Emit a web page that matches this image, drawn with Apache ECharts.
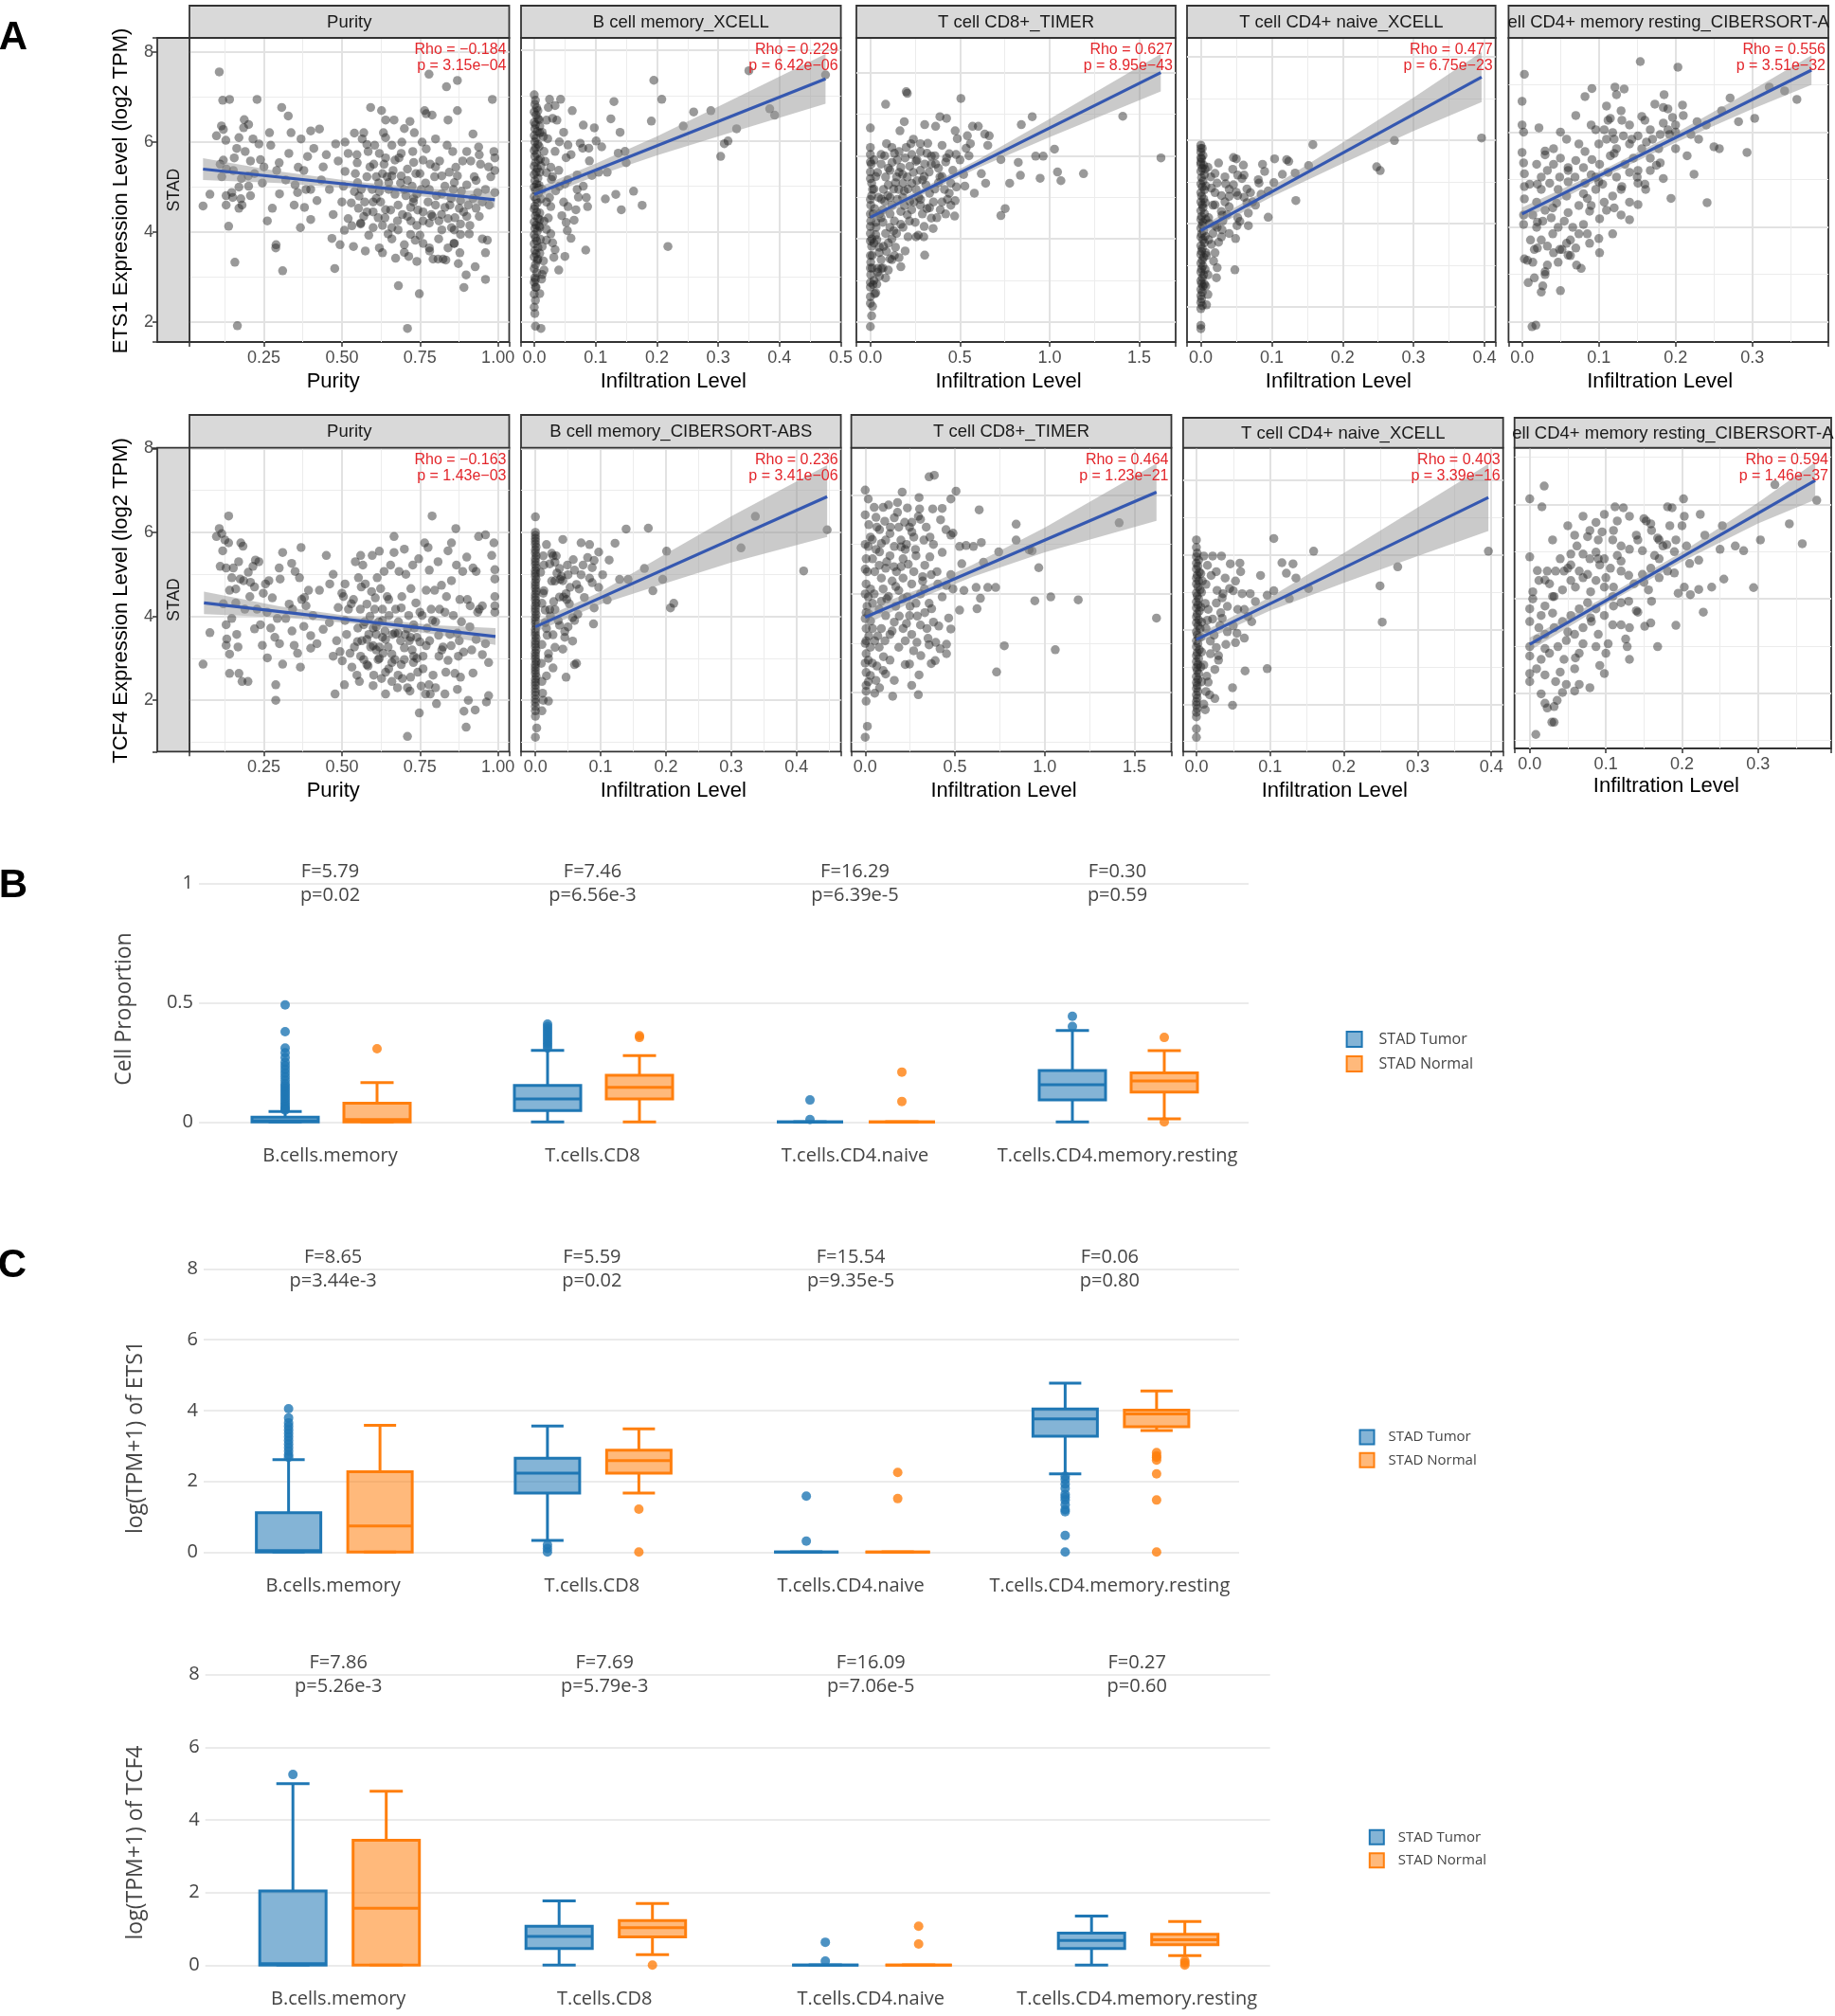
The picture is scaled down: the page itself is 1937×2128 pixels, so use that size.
<!DOCTYPE html>
<html><head><meta charset="utf-8">
<script src="https://cdn.jsdelivr.net/npm/echarts@6/dist/echarts.min.js"></script>
<style>html,body{margin:0;padding:0;background:#fff}#c{width:1937px;height:2128px}</style>
</head><body><div id="c"></div><script>
// ================= DATA =================
// ---- Panel A: strip titles, statistics ----
const stripTitles = [
  ['Purity', 'B cell memory_XCELL', 'T cell CD8+_TIMER', 'T cell CD4+ naive_XCELL', 'ell CD4+ memory resting_CIBERSORT-A'],
  ['Purity', 'B cell memory_CIBERSORT-ABS', 'T cell CD8+_TIMER', 'T cell CD4+ naive_XCELL', 'ell CD4+ memory resting_CIBERSORT-A']
];
const rhoValues = [['−0.184', '0.229', '0.627', '0.477', '0.556'], ['−0.163', '0.236', '0.464', '0.403', '0.594']];
const pValues = [['3.15e−04', '6.42e−06', '8.95e−43', '6.75e−23', '3.51e−32'], ['1.43e−03', '3.41e−06', '1.23e−21', '3.39e−16', '1.46e−37']];
const rowGenes = ['ETS1 Expression Level (log2 TPM)', 'TCF4 Expression Level (log2 TPM)'];
const xTitles = ['Purity', 'Infiltration Level', 'Infiltration Level', 'Infiltration Level', 'Infiltration Level'];
const cancerLabel = 'STAD';

// scatter points (flat x,y pairs)
const ets1_purity = [0.055,4.58,0.077,4.84,0.107,7.56,0.098,6.14,0.114,6.36,0.12,6.28,0.118,6.93,0.14,6.95,0.128,6.04,0.11,5.51,0.115,5.23,0.129,4.81,0.129,4.6,0.137,4.13,0.147,4.88,0.15,4.77,0.157,3.33,0.152,5.37,0.155,5.65,0.163,5.86,0.17,6.1,0.17,4.53,0.176,4.74,0.187,6.5,0.201,6.39,0.185,6.32,0.18,4.6,0.165,1.92,0.178,5.19,0.19,5.79,0.207,5.58,0.201,5.02,0.215,6.07,0.207,4.81,0.228,6.95,0.234,5.96,0.239,5.61,0.245,5.09,0.261,4.25,0.268,6.21,0.272,5.93,0.277,4.53,0.291,5.37,0.288,3.65,0.289,3.72,0.299,5.54,0.307,6.77,0.31,3.14,0.32,5.16,0.328,6.58,0.337,6.21,0.347,4.6,0.358,4.88,0.36,5.44,0.369,6.07,0.367,4.1,0.378,5.37,0.385,4.95,0.39,5.68,0.4,4.95,0.4,4.28,0.4,6.25,0.41,5.86,0.428,6.29,0.434,5.16,0.45,5.72,0.468,3.86,0.472,4.39,0.477,3.19,0.48,5.96,0.488,5.58,0.494,3.72,0.5,4.67,0.505,5.02,0.51,6.0,0.508,4.04,0.52,5.75,0.532,4.14,0.537,3.68,0.543,5.3,0.548,5.72,0.549,5.54,0.553,4.53,0.56,4.18,0.562,4.95,0.565,6.07,0.57,6.21,0.573,4.67,0.575,3.58,0.58,5.23,0.584,5.79,0.586,3.93,0.592,6.77,0.597,4.95,0.6,4.67,0.602,5.51,0.605,5.93,0.61,5.23,0.616,4.32,0.618,5.09,0.624,4.67,0.627,6.7,0.63,3.54,0.633,6.21,0.635,5.51,0.638,4.32,0.64,6.49,0.645,5.23,0.648,3.96,0.65,4.95,0.656,4.49,0.66,5.93,0.664,5.37,0.667,6.49,0.67,4.84,0.672,3.42,0.678,4.25,0.681,2.81,0.683,5.65,0.688,5.09,0.692,6.0,0.694,4.39,0.7,3.72,0.705,4.81,0.71,1.86,0.71,5.4,0.714,3.46,0.718,6.46,0.721,4.25,0.725,5.02,0.727,5.79,0.729,4.67,0.732,6.21,0.735,3.82,0.737,5.3,0.743,4.49,0.748,2.63,0.75,3.93,0.754,4.95,0.757,6.0,0.76,4.25,0.765,6.7,0.768,5.09,0.77,6.63,0.776,4.67,0.779,7.51,0.781,3.58,0.783,5.51,0.786,4.39,0.789,6.6,0.792,3.4,0.797,5.23,0.8,6.07,0.803,4.81,0.808,3.4,0.811,4.25,0.813,5.58,0.819,4.39,0.824,3.4,0.83,5.02,0.833,3.38,0.835,7.23,0.837,5.93,0.84,6.49,0.844,5.33,0.846,4.6,0.851,4.1,0.855,5.79,0.857,4.95,0.859,3.75,0.862,4.32,0.865,5.44,0.87,7.37,0.87,6.7,0.873,3.3,0.876,4.53,0.878,3.54,0.88,4.18,0.883,4.91,0.887,5.58,0.891,2.77,0.898,3.05,0.9,5.79,0.905,4.6,0.908,3.96,0.913,5.58,0.92,6.18,0.924,5.23,0.927,3.23,0.93,4.53,0.935,4.88,0.938,5.89,0.94,5.72,0.944,5.51,0.95,4.67,0.96,2.95,0.96,3.54,0.966,3.82,0.972,4.6,0.977,5.23,0.982,6.95,0.987,5.79,0.99,5.65,0.99,5.37,0.99,4.88,0.555,4.8,0.6,4.45,0.62,4.9,0.64,4.5,0.66,4.1,0.68,4.6,0.7,4.95,0.72,4.55,0.74,4.15,0.65,5.1,0.63,5.3,0.69,5.25,0.71,4.35,0.73,4.75,0.6,4.1,0.58,4.45,0.76,4.45,0.78,4.2,0.8,4.6,0.82,4.85,0.84,4.3,0.86,5.1,0.88,4.7,0.9,4.35,0.75,5.3,0.67,5.6,0.62,5.75,0.54,4.9,0.52,4.3,0.56,4.2,
  0.51,5.35,0.53,4.65,0.55,5.1,0.57,4.35,0.59,5.45,0.61,4.75,0.63,4.15,0.64,5.65,0.66,5.25,0.68,4.05,0.69,5.75,0.71,5.15,0.72,3.95,0.73,5.55,0.74,4.85,0.76,3.75,0.77,5.85,0.78,4.95,0.79,4.35,0.8,5.45,0.81,3.85,0.82,5.25,0.83,4.55,0.84,3.65,0.85,4.75,0.86,4.05,0.87,5.25,0.88,3.95,0.89,4.45,0.9,5.05,0.91,4.15,0.92,4.75,0.93,5.15,0.94,4.35,0.95,3.85,0.96,4.95,0.97,5.45,0.62,3.65,0.66,3.85,0.7,3.55,0.74,3.35,0.78,3.65,0.82,4.05,0.86,3.75,0.64,6.1,0.7,6.3,0.76,5.6,0.58,5.95,0.54,6.2,0.46,4.95,0.44,5.45,0.42,4.7,0.38,4.55,0.35,5.05,0.33,5.75,0.3,4.85,0.25,5.45,0.22,5.3,0.2,5.25,0.17,5.0,0.13,5.4,0.12,5.6];
const ets1_bcell = [0.195,7.34,0.208,6.92,0.13,6.87,0.125,6.49,0.191,6.44,0.26,6.64,0.288,6.67,0.243,6.33,0.33,6.27,0.384,6.71,0.392,6.57,0.475,7.46,0.35,7.55,0.316,6.0,0.31,5.94,0.304,5.66,0.14,6.19,0.08,6.35,0.098,6.29,0.101,6.0,0.11,5.87,0.137,5.73,0.148,5.77,0.15,5.52,0.09,5.56,0.089,5.84,0.079,5.84,0.062,6.67,0.043,6.92,0.025,6.92,0.034,6.78,0.037,6.46,0.023,6.74,0.116,4.72,0.133,4.82,0.162,4.89,0.176,4.58,0.142,4.48,0.087,4.55,0.068,4.48,0.072,4.76,0.218,3.67,0.084,3.59,0.054,4.02,0.052,4.2,0.034,3.6,0.032,3.43,0.016,3.15,0.013,3.05,0.009,2.63,0.002,1.91,0.011,1.86,0.002,2.94,0.002,2.77,0.094,5.24,0.105,5.31,0.119,5.31,0.07,4.93,0.055,5.14,0.041,5.0,0.03,5.21,0.048,4.65,0.023,4.3,0.027,3.95,0.02,3.81,0.041,5.98,0.048,6.19,0.055,5.91,0.034,5.77,0.052,5.63,0.027,5.42,0.016,5.77,0.013,4.93,0.02,4.65,0.027,4.55,0.016,4.23,0.009,4.09,0.013,3.67,0.006,3.39,0.009,6.33,0.013,6.19,0.02,6.46,0.006,6.67,
  0,7.02,0.002,6.9,0.001,6.81,0.004,6.73,0,6.64,0.003,6.57,0.006,6.49,0,6.41,0.002,6.36,0.001,6.27,0.005,6.21,0,6.12,0.003,6.06,0.001,5.98,0.006,5.93,0.002,5.85,0,5.79,0.004,5.71,0.001,5.66,0.007,5.58,0.002,5.52,0,5.44,0.005,5.39,0.003,5.31,0,5.26,0.006,5.18,0.001,5.12,0.004,5.04,0,4.98,0.002,4.91,0.007,4.85,0,4.77,0.003,4.71,0.005,4.64,0.001,4.56,0,4.5,0.004,4.43,0.002,4.35,0.006,4.29,0,4.21,0.003,4.14,0.001,4.07,0.005,4.01,0,3.93,0.002,3.86,0.004,3.79,0,3.73,0.006,3.65,0.001,3.58,0.003,3.51,0,3.44,0.005,3.36,0.002,3.27,0,3.18,0.004,3.09,0.001,2.98,0,2.88,0.003,2.77,0,2.62,0.002,2.48,0,2.33,0.001,2.19,0.009,6.18,0.008,5.88,0.01,5.6,0.009,5.31,0.008,5.02,0.011,4.72,0.009,4.41,0.008,4.12,0.01,3.83,0.009,3.52,0.008,6.47,0.011,5.45,0.007,4.96,0.009,4.26,
  0.015,6.1,0.02,5.3,0.025,4.75,0.03,6.5,0.035,4.9,0.04,5.35,0.045,4.35,0.05,5.05,0.055,4.55,0.06,5.7,0.065,4.25,0.07,5.25,0.075,5.95,0.08,5.0,0.085,4.75,0.06,3.85,0.05,3.45,0.04,3.15,0.03,3.75,0.02,4.05,0.015,3.35,0.012,2.95,0.018,5.55,0.022,6.05,0.028,5.15];
const ets1_cd8 = [0,1.89,0,6.67,0,6.03,0,5.61,0.007,5.34,0.007,5.04,0.002,4.81,0.002,4.43,0,4.13,0.007,3.82,0.002,3.44,0.002,3.14,0,2.84,0,2.61,0.012,5.19,0.024,4.73,0.032,4.28,0.036,3.98,0.049,3.67,0.06,4.51,0.041,3.29,0.085,7.24,0.2,7.54,0.206,7.5,0.505,7.38,0.06,6.03,0.09,6.29,0.134,6.06,0.121,5.84,0.189,6.82,0.165,6.6,0.226,6.29,0.279,6.29,0.303,6.75,0.364,6.71,0.388,6.94,0.425,6.9,0.473,6.6,0.485,6.41,0.541,6.48,0.602,6.71,0.638,6.52,0.663,6.48,0.534,6.18,0.558,6.29,0.478,6.03,0.425,5.95,0.34,5.99,0.316,6.06,0.303,5.8,0.279,5.65,0.255,5.87,0.231,6.03,0.194,5.95,0.17,5.72,0.146,5.49,0.109,5.65,0.085,5.49,0.073,5.19,0.061,4.96,0.097,5.04,0.121,4.81,0.158,5.19,0.182,5.34,0.206,5.49,0.231,5.34,0.255,5.19,0.291,5.42,0.328,5.61,0.364,5.8,0.388,5.49,0.413,5.19,0.449,5.34,0.473,4.92,0.449,4.81,0.4,4.89,0.352,4.89,0.316,4.73,0.279,4.81,0.243,4.89,0.206,4.58,0.17,4.66,0.134,4.43,0.109,4.28,0.085,4.13,0.146,4.13,0.182,4.28,0.218,4.43,0.255,4.05,0.298,4.05,0.371,4.51,0.527,5.27,0.619,5.57,0.643,5.34,0.728,5.91,0.825,5.84,0.842,6.75,0.903,6.94,0.922,5.99,0.964,5.99,1.027,6.16,1.044,5.61,1.063,5.4,0.947,5.46,0.837,5.53,0.777,5.34,0.752,4.73,0.728,4.56,1.189,5.57,1.408,6.95,1.621,5.95,0.655,6.25,0.57,6.71,0.134,3.6,0.17,3.33,0.194,3.71,0.109,3.52,0.073,3.82,0.267,4.09,0.303,3.61,0.061,3.29,0.085,3.06,0.036,2.91,0.024,2.68,0.012,2.38,0.007,2.15,0.02,5.9,0.03,5.5,0.045,5.0,0.05,4.6,0.07,4.4,0.08,4.9,0.1,5.3,0.11,5.0,0.13,5.2,0.15,5.9,0.16,5.6,0.18,5.0,0.19,4.8,0.21,5.2,0.22,4.9,0.24,5.6,0.26,5.4,0.27,5.0,0.29,4.6,0.31,5.3,0.33,5.1,0.34,4.5,0.36,5.2,0.38,5.7,0.4,5.5,0.42,4.6,0.44,5.1,0.12,4.0,0.14,3.8,0.1,3.9,0.06,3.5,0.04,3.2,0.02,3.9,0.03,4.4,0.015,4.6,0.01,3.6,0.015,2.9,0.008,4.0,0.005,5.8,0,6.2,0,5.85,0,5.45,0,4.95,0,4.6,0,4.3,0,3.95,0,3.6,0,3.3,0,2.95,0,2.45,
  0.02,5.2,0.04,5.6,0.06,5.8,0.08,6.0,0.1,5.7,0.12,6.2,0.14,5.35,0.16,6.1,0.18,5.55,0.2,6.2,0.22,5.75,0.24,6.4,0.26,5.9,0.28,6.1,0.3,5.5,0.32,6.3,0.34,5.8,0.36,6.0,0.38,5.35,0.4,6.25,0.42,5.85,0.44,6.05,0.46,5.65,0.48,5.25,0.5,5.9,0.52,5.55,0.55,6.0,0.58,5.1,0.03,4.1,0.05,3.8,0.07,4.7,0.09,3.7,0.11,4.6,0.13,4.2,0.15,4.95,0.17,4.35,0.19,5.15,0.21,4.05,0.23,4.7,0.25,4.4,0.28,4.95,0.3,4.3,0.33,4.75,0.35,4.25,0.39,4.7,0.43,4.95,0.47,4.55,0.01,3.3,0.02,3.0,0.03,2.7,0.05,3.1,0.07,3.3,0.1,3.25,0.12,3.5,0.16,3.55];
const ets1_cd4n = [0.046,5.58,0.05,5.55,0.087,5.42,0.104,5.55,0.121,5.53,0.124,5.49,0.158,5.89,0.273,5.99,0.248,5.36,0.253,5.27,0.396,6.05,0.152,5.39,0.133,5.21,0.134,4.55,0.115,5.18,0.103,4.98,0.095,4.78,0.081,5.05,0.07,4.74,0.065,4.83,0.058,5.08,0.052,5.16,0.061,4.63,0.073,4.52,0.077,4.44,0.067,4.25,0.052,4.14,0.051,3.95,0.067,3.95,0.095,4.15,0.04,4.82,0.034,4.52,0.029,4.67,0.023,4.97,0.02,5.2,0.014,5.12,0.037,4.21,0.031,4.06,0.023,3.91,0.017,3.76,0.011,3.61,0.023,2.94,0.048,2.89,0.04,3.76,0.049,3.64,0.029,3.68,0.008,3.23,0.01,2.77,0.005,2.55,0.02,3.3,0.034,5.12,0.046,4.93,0.052,4.67,0.029,4.29,0.017,4.44,0.011,4.14,0.02,4.74,0.061,5.16,0.082,4.97,
  0,5.88,0.002,5.8,0,5.71,0.003,5.63,0.001,5.55,0,5.47,0.004,5.4,0.002,5.32,0,5.25,0.005,5.17,0.001,5.1,0.003,5.02,0,4.95,0.002,4.88,0.005,4.81,0,4.74,0.001,4.66,0.004,4.59,0,4.52,0.002,4.45,0.003,4.38,0,4.31,0.005,4.24,0.001,4.17,0,4.1,0.003,4.03,0.002,3.96,0,3.89,0.004,3.82,0.001,3.75,0,3.68,0.003,3.61,0.005,3.54,0,3.47,0.002,3.4,0.001,3.33,0,3.26,0.004,3.19,0.002,3.12,0,3.05,0.003,2.98,0.001,2.91,0,2.84,0.004,2.77,0.002,2.7,0,2.63,0.001,2.56,0.003,2.49,0,2.42,0.002,2.35,0,2.27,0.001,2.19,0,2.11,0.002,2.03,0,1.96,0,1.56,0,1.48,0.006,5.3,0.007,4.9,0.006,4.5,0.007,4.1,0.006,3.7,0.007,3.3,0.006,2.9,0.007,2.5,0,5.58,0,5.8,0,5.42,
  0.01,5.35,0.015,4.85,0.02,4.45,0.025,5.45,0.03,4.2,0.035,4.95,0.04,4.4,0.045,5.3,0.05,4.75,0.055,4.05,0.06,5.4,0.065,4.5,0.012,4.0,0.015,3.5,0.02,3.95,0.025,3.55,0.03,3.85,0.018,3.1,0.022,2.7,0.01,2.3,0.008,2.05,0.04,4.65,0.085,4.7,0.09,5.25];
const ets1_cd4mr = [0.003,7.22,0,6.65,0,6.15,0.002,6.0,0,5.57,0.002,5.35,0.003,5.12,0.003,4.85,0.003,4.59,0.002,4.25,0.002,4.05,0.003,3.32,0.007,3.29,0.008,2.82,0.016,2.92,0.013,1.89,0.018,1.92,0.022,6.09,0.03,2.99,0.027,2.75,0.025,2.62,0.033,3.19,0.047,3.25,0.049,3.52,0.058,3.65,0.077,3.12,0.088,3.65,0.101,3.45,0.082,6.75,0.091,6.92,0.121,6.95,0.123,6.79,0.133,6.91,0.154,7.49,0.203,7.37,0.185,6.79,0.173,6.59,0.184,6.52,0.19,6.49,0.209,6.57,0.196,6.31,0.129,6.45,0.115,6.29,0.112,6.25,0.156,6.33,0.096,6.05,0.107,6.05,0.118,5.99,0.132,5.92,0.143,5.85,0.167,6.05,0.184,6.19,0.192,5.95,0.228,6.22,0.23,5.85,0.25,5.69,0.257,5.65,0.271,6.72,0.282,6.22,0.303,6.29,0.322,6.95,0.342,6.87,0.358,6.69,0.293,5.57,0.224,5.11,0.241,4.51,0.194,4.6,0.184,5.02,0.161,4.79,0.151,4.47,0.118,3.85,0.101,4.17,0.088,4.33,0.074,4.45,0.058,4.65,0.047,4.79,0.036,4.92,0.025,5.05,0.019,5.32,0.03,5.52,0.041,5.65,0.058,5.85,0.074,5.75,0.082,5.59,0.091,5.42,0.101,5.32,0.112,5.15,0.123,5.05,0.134,5.32,0.145,5.45,0.156,5.65,0.167,5.45,0.151,5.19,0.129,4.79,0.118,4.65,0.107,4.52,0.096,4.79,0.082,4.92,0.069,5.05,0.06,5.19,0.049,5.05,0.041,5.32,0.033,5.19,0.025,4.79,0.019,4.52,0.014,4.25,0.019,3.99,0.027,4.12,0.038,4.19,0.047,3.99,0.055,4.12,0.066,3.99,0.074,3.85,0.063,3.72,0.052,3.52,0.041,3.45,0.033,3.59,0.025,3.72,0.016,3.52,0.011,3.72,0.014,3.25,0.063,3.39,0.071,3.19,0.085,3.85,0.096,5.05,0.123,5.65,0.11,5.85,0.151,5.92,0.162,5.79,0.178,5.65,0.167,5.19,0.14,4.52,0.129,4.25,0.151,4.92,0.07,5.4,0.09,5.1,0.105,4.9,0.06,4.3,0.045,4.5,0.03,4.35,0.02,4.9,0.085,4.6,0.115,5.5,0.2,6.0,0.215,5.5,0.175,5.3,0.14,6.15,
  0.01,4.9,0.02,4.1,0.03,5.6,0.04,3.85,0.05,5.45,0.06,4.95,0.07,3.55,0.08,5.25,0.09,4.45,0.1,5.75,0.11,4.35,0.12,5.55,0.13,4.85,0.14,5.75,0.15,5.05,0.16,6.25,0.17,5.85,0.18,5.35,0.19,6.05,0.2,5.65,0.21,6.35,0.22,5.95,0.24,6.15,0.26,6.45,0.04,4.4,0.06,3.4,0.08,4.05,0.1,3.75,0.12,4.4,0.14,4.15,0.05,6.0,0.07,6.35,0.09,6.15,0.11,6.55,0.13,6.25,0.03,3.05,0.05,2.65,0.02,3.55,0.06,5.25,0.08,4.7,0.1,4.95,0.12,5.85,0.14,5.15,0.16,4.9,0.18,5.95,0.2,6.15];
const tcf4_purity = [0.055,2.86,0.077,3.61,0.098,5.9,0.107,6.09,0.115,5.97,0.11,5.19,0.118,5.56,0.125,5.82,0.129,5.15,0.137,6.39,0.137,5.75,0.14,4.62,0.147,4.92,0.129,3.8,0.131,3.46,0.129,3.31,0.14,2.64,0.147,3.95,0.152,5.15,0.16,4.32,0.163,3.57,0.167,3.27,0.169,5.3,0.17,2.64,0.174,4.89,0.176,5.75,0.18,2.45,0.183,5.67,0.185,4.85,0.189,4.17,0.199,2.45,0.205,4.47,0.207,4.81,0.215,5.19,0.22,4.7,0.223,5.34,0.228,4.17,0.234,5.3,0.239,3.8,0.245,3.31,0.248,4.55,0.255,4.77,0.261,3.01,0.266,4.85,0.272,3.72,0.277,4.44,0.285,3.5,0.288,2.37,0.288,2.0,0.293,3.95,0.299,5.15,0.302,4.89,0.31,2.86,0.31,5.52,0.32,3.95,0.331,4.29,0.339,5.26,0.342,4.17,0.347,3.31,0.35,5.07,0.358,3.12,0.364,4.92,0.367,2.79,0.369,5.64,0.371,4.4,0.378,3.76,0.385,4.25,0.393,4.62,0.4,3.54,0.4,3.24,0.407,4.02,0.428,4.62,0.44,3.69,0.45,5.45,0.461,4.77,0.472,5.0,0.478,2.15,0.472,3.05,0.483,3.42,0.488,4.21,0.494,3.16,0.501,2.94,0.505,4.47,0.508,2.37,0.51,4.77,0.515,3.57,0.521,4.17,0.526,3.12,0.532,2.79,0.537,4.4,0.54,3.27,0.543,5.3,0.548,2.6,0.551,3.72,0.553,4.92,0.556,2.45,0.559,4.17,0.562,4.7,0.564,3.42,0.567,5.22,0.57,2.97,0.573,3.87,0.575,4.77,0.58,4.29,0.584,2.82,0.586,3.57,0.592,3.27,0.595,4.59,0.597,5.45,0.6,3.72,0.602,2.6,0.605,4.17,0.607,4.44,0.61,3.57,0.613,4.92,0.616,2.97,0.618,3.87,0.62,3.27,0.624,4.66,0.627,2.52,0.63,4.17,0.632,3.12,0.635,5.07,0.638,3.65,0.64,2.67,0.645,4.47,0.648,3.27,0.651,4.02,0.656,5.22,0.66,2.45,0.662,3.57,0.667,5.52,0.667,5.9,0.67,2.97,0.672,4.17,0.678,2.3,0.681,3.87,0.683,5.07,0.688,3.42,0.692,4.47,0.694,2.52,0.7,2.97,0.703,3.57,0.705,5.0,0.71,1.14,0.71,2.3,0.714,4.02,0.716,3.42,0.718,2.22,0.721,4.66,0.725,3.2,0.727,5.22,0.729,2.9,0.732,3.72,0.737,4.32,0.743,2.67,0.746,5.37,0.748,1.7,0.75,3.39,0.754,2.34,0.757,4.02,0.76,3.05,0.765,5.75,0.768,2.15,0.77,4.62,0.773,3.72,0.776,5.64,0.779,2.37,0.781,3.42,0.783,2.15,0.786,4.17,0.789,6.39,0.792,2.6,0.797,4.62,0.8,3.87,0.803,1.92,0.808,5.3,0.811,3.05,0.813,4.17,0.819,4.74,0.824,3.27,0.83,2.15,0.833,2.67,0.835,4.47,0.84,5.56,0.846,3.57,0.851,5.75,0.851,4.85,0.857,4.02,0.862,2.64,0.865,6.09,0.867,5.22,0.87,2.26,0.873,3.05,0.876,3.42,0.878,4.4,0.883,3.87,0.887,5.07,0.891,1.74,0.898,1.36,0.9,5.41,0.902,4.4,0.905,2.0,0.911,4.25,0.916,3.2,0.92,5.15,0.927,1.77,0.93,5.07,0.935,4.1,0.938,5.9,0.94,4.17,0.95,3.09,0.96,5.94,0.963,1.96,0.97,2.9,0.97,2.11,0.98,5.45,0.987,5.75,0.99,5.11,0.99,4.89,0.99,4.47,0.99,4.25,0.99,4.1,0.6,3.3,0.62,3.0,0.64,3.45,0.66,3.1,0.68,3.6,0.7,3.25,0.72,3.5,0.74,3.0,0.58,3.45,0.56,3.05,0.65,2.75,0.69,2.85,0.61,3.75,0.73,3.8,0.63,3.9,
  0.51,3.9,0.53,4.3,0.55,3.4,0.57,3.8,0.59,4.0,0.61,3.2,0.63,3.5,0.65,4.4,0.67,3.6,0.69,4.2,0.71,3.7,0.73,3.05,0.75,4.1,0.77,3.3,0.79,3.9,0.81,3.55,0.83,4.1,0.85,3.3,0.87,3.6,0.89,3.15,0.91,3.75,0.93,3.45,0.95,4.25,0.6,2.35,0.64,2.15,0.68,2.6,0.72,2.55,0.76,2.75,0.8,2.3,0.84,2.95,0.88,2.55,0.92,2.65,0.96,3.35,0.5,4.55,0.46,3.85,0.42,3.35,0.38,4.45,0.34,3.65,0.3,3.35,0.26,4.1,0.22,3.7,0.2,5.05,0.16,4.65,0.14,3.1,0.12,4.3,0.56,5.45,0.62,5.55,0.7,5.6,0.78,5.1,0.58,2.85,0.66,2.9,0.74,3.5,0.82,3.2];
const tcf4_bcell = [0.017,5.71,0.012,5.44,0.013,5.22,0.022,5.25,0.027,5.44,0.03,5.29,0.032,5.44,0.025,4.84,0.042,5.83,0.033,5.03,0.038,4.88,0.042,4.85,0.043,4.46,0.048,4.4,0.067,4.65,0.057,3.97,0.06,3.9,0.063,2.88,0.06,2.85,0.047,2.55,0.042,3.22,0.057,3.41,0.083,5.71,0.097,5.53,0.09,5.33,0.113,5.34,0.087,5.16,0.083,4.91,0.087,4.8,0.09,4.2,0.089,3.82,0.129,4.88,0.142,4.88,0.122,5.74,0.139,6.08,0.173,6.1,0.167,5.14,0.201,5.55,0.195,4.88,0.18,4.61,0.207,4.2,0.212,4.31,0.11,4.39,0.097,4.69,0.103,4.99,0.073,5.22,0.07,4.99,0.063,4.76,0.053,4.69,0.047,4.54,0.037,4.46,0.03,4.16,0.023,4.01,0.017,3.71,0.027,3.56,0.037,3.79,0.045,3.64,0.03,3.26,0.02,3.11,0.027,2.77,0.017,2.58,0.011,2.17,0.02,1.98,0.01,1.75,0.022,4.16,0.013,4.61,0.01,4.31,0.01,3.33,0.009,2.88,0.03,4.84,0.037,5.14,0.049,5.22,0.05,4.99,0.06,5.1,0.337,6.38,0.315,5.63,0.411,5.08,0.447,6.06,
  0,6.37,0,6.0,0,5.93,0,5.86,0,5.79,0,5.72,0.001,5.65,0,5.58,0,5.51,0.001,5.44,0,5.37,0,5.3,0,5.23,0.001,5.16,0,5.09,0,5.02,0,4.95,0.001,4.88,0,4.81,0,4.74,0,4.67,0.001,4.6,0,4.53,0,4.46,0,4.39,0.001,4.32,0,4.25,0,4.18,0,4.11,0.001,4.04,0,3.97,0,3.9,0,3.83,0.001,3.76,0,3.69,0,3.62,0,3.55,0.001,3.48,0,3.41,0,3.34,0,3.27,0.001,3.2,0,3.13,0,3.06,0,2.99,0.001,2.92,0,2.85,0,2.78,0,2.71,0,2.64,0.001,2.57,0,2.5,0,2.43,0,2.36,0,2.28,0,2.2,0,2.12,0,2.03,0,1.95,0,1.85,0,1.75,0,1.62,0.002,1.34,0,1.12,
  0.008,5.05,0.012,4.55,0.015,4.15,0.018,3.55,0.02,3.0,0.025,5.5,0.028,4.35,0.035,3.9,0.04,4.95,0.045,3.5,0.052,4.3,0.058,5.35,0.065,4.05,0.075,4.45,0.08,5.4,0.01,2.45,0.012,2.0,0.015,3.85,0.05,3.75,0.07,5.75];
const tcf4_cd8 = [0,6.1,0.017,5.92,0,1.1,0.012,1.32,0.356,6.37,0.385,6.4,0.206,6.06,0.506,6.08,0.477,5.92,0.635,5.7,0.235,5.74,0.303,5.72,0.376,5.72,0.429,5.73,0.247,5.35,0.296,5.57,0.308,5.51,0.162,5.54,0.109,5.47,0.065,5.35,0.199,5.09,0.223,4.9,0.271,5.15,0.327,5.09,0.361,5.15,0.429,4.84,0.477,5.19,0.489,5.23,0.526,4.96,0.562,4.98,0.603,4.96,0.647,5.04,0.841,5.41,0.841,5.09,0.913,4.89,0.93,4.87,0.967,4.53,0.744,4.85,0.659,4.64,0.727,4.13,0.618,4.13,0.538,4.61,0.477,4.39,0.453,4.17,0.489,4.1,0.642,3.91,0.623,3.7,0.526,3.67,0.465,3.51,0.477,3.29,0.453,2.98,0.393,3.02,0.417,2.89,0.453,2.79,0.356,2.97,0.288,3.02,0.368,2.59,0.247,2.58,0.223,2.57,0.3,2.36,0.259,2.15,0.296,1.96,0.153,1.93,0.162,2.25,0.114,2.38,0.053,1.99,0.017,2.22,0.005,1.83,0.775,2.95,0.732,2.42,1.059,2.87,0.945,3.86,1.034,3.94,1.187,3.88,1.415,5.44,1.623,3.51,0.683,4.13,0.55,4.07,0.041,4.71,0.053,4.45,0.078,4.58,0.09,4.32,0.114,4.52,0.138,4.77,0.15,4.26,0.174,4.45,0.187,4.07,0.211,4.32,0.235,3.94,0.259,4.2,0.283,3.81,0.308,4.0,0.332,3.62,0.356,3.81,0.38,3.43,0.344,3.3,0.308,3.37,0.259,3.18,0.211,3.3,0.162,3.43,0.114,3.56,0.078,3.69,0.041,3.81,0.017,3.94,0.005,4.2,0.012,4.45,0.005,4.71,0.017,4.96,0.029,5.15,0.041,3.3,0.053,3.05,0.078,2.92,0.102,2.73,0.138,2.66,0.187,2.92,0.223,3.05,0.138,3.18,0.09,3.3,0.029,2.92,0.017,2.66,0.005,2.41,0.029,2.35,0.065,2.54,0.005,3.62,0.005,3.3,0.005,3.05,0.005,2.79,0.005,2.15,0.005,2.03,0.09,5.02,0.138,5.22,0.187,5.35,0.162,4.96,0.114,5.09,0.211,4.71,0.283,4.77,0.332,4.58,0.368,4.39,0.405,4.2,0.429,3.94,0.271,4.45,0.32,4.26,0.247,3.56,0.0,5.6,0.0,5.0,0.0,4.5,0.0,4.0,0.0,3.5,0.0,3.0,0.0,2.6,0.02,3.6,0.03,4.1,0.06,4.9,0.1,4.1,0.12,3.9,0.17,3.75,0.2,4.55,0.23,5.0,0.26,5.45,0.05,5.75,0.08,5.3,0.13,5.8,0.18,5.65,
  0.02,5.4,0.04,5.1,0.06,5.55,0.08,4.85,0.1,5.75,0.12,4.65,0.14,5.35,0.16,4.55,0.18,5.85,0.2,4.95,0.22,5.45,0.24,4.6,0.26,5.25,0.28,4.9,0.3,5.95,0.32,4.35,0.34,5.35,0.36,4.75,0.38,5.0,0.4,4.45,0.42,5.5,0.45,5.3,0.03,3.45,0.05,4.0,0.07,3.15,0.09,3.85,0.11,3.05,0.13,3.95,0.15,3.25,0.17,4.15,0.19,3.55,0.21,3.9,0.23,3.4,0.25,3.75,0.27,2.85,0.29,3.55,0.31,2.75,0.33,4.1,0.35,3.1,0.37,3.7,0.39,2.65,0.41,3.35,0.01,3.75,0.02,3.15,0.04,2.6,0.06,2.25,0.08,2.1,0.1,2.45];
const tcf4_cd4n = [0.105,6.44,0.159,6.1,0.396,6.1,0.273,5.68,0.249,5.17,0.252,4.2,0.116,5.79,0.131,5.76,0.122,5.51,0.135,5.38,0.152,5.1,0.126,4.83,0.105,5.04,0.096,4.92,0.087,5.45,0.073,4.96,0.075,4.21,0.065,4.54,0.066,2.89,0.096,2.95,0.049,2.44,0.049,1.97,0.025,2.15,0.059,5.78,0.046,5.76,0.034,5.97,0.022,5.97,0.027,5.55,0.039,5.38,0.053,5.3,0.05,5.04,0.062,4.96,0.036,4.96,0.027,4.71,0.042,4.62,0.056,4.54,0.033,4.45,0.022,4.28,0.032,4.11,0.042,3.94,0.053,3.65,0.065,3.77,0.027,3.52,0.019,3.35,0.03,3.18,0.025,2.93,0.016,2.59,0.013,2.34,0.01,2.0,0.019,3.69,0.013,4.03,0.016,4.54,0.013,5.21,0.015,5.72,0.01,5.97,
  0,6.4,0,6.2,0.001,6.05,0,5.95,0.003,5.86,0,5.78,0.002,5.7,0,5.62,0.004,5.54,0.001,5.46,0,5.38,0.003,5.3,0,5.22,0.002,5.14,0.005,5.06,0,4.98,0.001,4.9,0.003,4.82,0,4.74,0.002,4.66,0,4.58,0.004,4.5,0.001,4.42,0,4.34,0.003,4.26,0,4.18,0.002,4.1,0.005,4.02,0,3.94,0.001,3.86,0.003,3.78,0,3.7,0.002,3.62,0,3.54,0.004,3.46,0.001,3.38,0,3.3,0.003,3.22,0,3.14,0.002,3.06,0,2.98,0.001,2.9,0.003,2.82,0,2.74,0.002,2.66,0,2.58,0.001,2.5,0,2.42,0.002,2.34,0,2.25,0.001,2.16,0,2.07,0,1.98,0.001,1.88,0,1.78,0,1.66,0,1.34,0,1.11,0.006,5.5,0.007,5.0,0.006,4.6,0.007,4.2,0.006,3.8,0.007,3.4,0.006,3.0,0.007,2.6,
  0.008,5.3,0.012,4.7,0.015,4.25,0.02,5.45,0.024,3.85,0.028,5.05,0.035,4.3,0.04,3.6,0.045,5.1,0.05,4.1,0.06,5.55,0.07,4.35,0.08,4.75,0.01,3.05,0.014,2.75,0.018,2.25,0.012,1.85,0.03,3.3,0.035,4.85,0.055,3.9];
const tcf4_cd4mr = [0,6.12,0.016,5.95,0.019,6.39,0,4.89,0.004,4.15,0.004,4.0,0,3.79,0,3.52,0,2.99,0,2.79,0,2.42,0,2.25,0.008,1.13,0.032,1.39,0.02,1.79,0.023,1.69,0.015,1.99,0.034,2.25,0.202,6.12,0.181,5.95,0.187,5.93,0.112,5.95,0.123,5.93,0.131,5.75,0.098,5.79,0.087,5.62,0.079,5.45,0.115,5.65,0.153,5.65,0.159,5.59,0.203,5.75,0.224,5.79,0.184,5.55,0.168,5.29,0.142,5.25,0.12,5.12,0.109,5.25,0.095,5.42,0.076,5.32,0.059,5.35,0.062,5.12,0.054,4.95,0.07,4.95,0.087,4.99,0.098,4.85,0.115,4.92,0.131,5.05,0.148,5.02,0.164,4.92,0.175,5.12,0.192,5.25,0.206,5.12,0.222,4.82,0.27,5.12,0.281,5.02,0.303,5.25,0.253,5.55,0.322,6.42,0.341,5.59,0.358,5.17,0.377,6.09,0.255,4.42,0.239,4.25,0.222,4.2,0.203,4.25,0.195,4.12,0.211,4.09,0.294,4.24,0.228,3.72,0.192,3.44,0.168,2.99,0.159,3.49,0.151,3.42,0.131,3.39,0.126,3.15,0.128,2.99,0.131,2.72,0.098,2.42,0.092,2.59,0.079,2.12,0.065,2.19,0.059,2.05,0.048,2.19,0.036,1.85,0.043,2.02,0.032,1.72,0.029,1.39,0.142,3.72,0.12,3.92,0.109,4.05,0.098,4.25,0.087,4.39,0.076,4.52,0.065,4.59,0.054,4.39,0.043,4.19,0.032,4.05,0.02,3.85,0.015,3.65,0.012,3.39,0.02,3.25,0.032,3.39,0.043,3.52,0.054,3.65,0.065,3.79,0.076,3.92,0.087,3.79,0.098,3.65,0.109,3.45,0.081,3.52,0.07,3.39,0.059,3.25,0.048,3.12,0.037,2.99,0.026,2.85,0.015,2.72,0.009,2.52,0.02,2.39,0.065,2.85,0.087,2.99,0.103,3.05,0.059,2.52,0.045,2.72,0.137,4.32,0.148,4.52,0.159,4.65,0.12,4.59,0.17,4.45,0.156,4.19,0.181,4.59,0.092,4.72,0.106,4.65,0.079,4.85,0.045,4.59,0.034,4.59,0.023,4.59,0.012,4.39,0.026,4.32,0.054,4.72,
  0.01,3.15,0.02,4.4,0.03,3.7,0.04,4.85,0.05,3.3,0.06,4.25,0.07,3.05,0.08,4.15,0.09,3.25,0.1,4.45,0.11,3.85,0.12,4.8,0.13,3.95,0.14,5.35,0.15,4.35,0.16,5.45,0.17,4.85,0.18,5.15,0.19,4.55,0.2,5.55,0.21,4.75,0.23,5.35,0.25,5.05,0.02,2.95,0.04,2.45,0.06,2.75,0.08,3.6,0.1,2.85,0.12,3.45,0.14,3.75,0.16,3.95,0.03,5.25,0.05,5.55,0.07,5.75,0.09,5.25,0.11,5.45,0.01,4.6,0.03,4.05,0.05,4.65,0.07,4.45,0.09,4.85,0.11,4.25,0.13,4.5,0.15,5.7,0.17,5.25,0.19,5.0];

// regression lines [x0, y0, x1, y1] and confidence bands
const fitLines = [
  [0.055,5.40,0.99,4.72],[0,4.82,0.475,7.37],[0,4.52,1.62,8.0],[0,3.83,0.396,7.51],[0,4.27,0.377,7.31],
  [0.058,4.32,0.992,3.52],[0,3.75,0.447,6.85],[0,3.53,1.623,6.06],[0,3.73,0.396,7.54],[0,3.04,0.375,6.51]
];
const bandX = [
  [0.055,0.3,0.55,0.8,0.99],[0,0.1,0.2,0.3,0.475],[0,0.3,0.6,1.0,1.62],[0,0.1,0.2,0.3,0.396],[0,0.1,0.2,0.3,0.377],
  [0.058,0.3,0.55,0.8,0.992],[0,0.1,0.2,0.3,0.447],[0,0.3,0.6,1.0,1.623],[0,0.1,0.2,0.3,0.396],[0,0.1,0.2,0.3,0.375]
];
const bandLo = [
  [5.16,5.09,4.965,4.76,4.54],[4.70,5.22,5.68,6.10,6.82],[4.40,5.08,5.71,6.45,7.55],[3.73,4.64,5.44,6.22,6.91],[4.13,5.0,5.78,6.49,7.0],
  [4.05,3.98,3.82,3.57,3.32],[3.63,4.29,4.79,5.28,5.89],[3.38,3.9,4.35,4.84,5.48],[3.61,4.51,5.25,5.97,6.64],[2.9,3.89,4.79,5.6,6.1]
];
const bandHi = [
  [5.64,5.35,5.115,4.96,4.90],[4.94,5.50,6.10,6.76,7.92],[4.64,5.24,5.91,6.89,8.45],[3.93,4.88,5.94,7.02,8.11],[4.41,5.16,5.98,6.89,7.62],
  [4.59,4.24,3.98,3.79,3.72],[3.87,4.59,5.49,6.38,7.6],[3.68,4.1,4.59,5.34,6.64],[3.85,4.87,6.05,7.27,8.44],[3.18,4.05,4.99,6.04,6.9]
];

// ---- Panels B & C: boxplots ----
const cellTypes = ['B.cells.memory', 'T.cells.CD8', 'T.cells.CD4.naive', 'T.cells.CD4.memory.resting'];
const groupNames = ['STAD Tumor', 'STAD Normal'];
// [min, Q1, median, Q3, max]
const propTumor  = [[0,0,0.005,0.02,0.044],[0,0.048,0.096,0.153,0.30],[0,0,0,0,0],[0,0.092,0.156,0.215,0.383]];
const propNormal = [[0,0,0.01,0.079,0.165],[0,0.096,0.145,0.196,0.278],[0,0,0,0,0],[0.013,0.125,0.172,0.206,0.299]];
const propTumorOut  = [[0.49,0.378,0.31,0.29,0.27,0.25,0.235,0.22,0.205,0.19,0.175,0.16,0.15,0.14,0.13,0.12,0.11,0.1,0.09,0.08,0.07,0.062,0.055,0.05],[0.31,0.32,0.33,0.34,0.35,0.36,0.37,0.38,0.39,0.40,0.41],[0.092,0.01],[0.443,0.40]];
const propNormalOut = [[0.307],[0.354,0.361],[0.209,0.086],[0.354,0]];
const propF = ['5.79','7.46','16.29','0.30'];
const propP = ['0.02','6.56e-3','6.39e-5','0.59'];

const ets1Tumor  = [[0,0,0.04,1.11,2.61],[0.33,1.67,2.23,2.65,3.56],[0,0,0,0,0],[2.21,3.27,3.76,4.04,4.77]];
const ets1Normal = [[0,0,0.74,2.27,3.58],[1.67,2.23,2.58,2.88,3.48],[0,0,0,0,0],[3.43,3.54,3.90,4.01,4.55]];
const ets1TumorOut  = [[4.05,3.79,3.65,3.55,3.45,3.35,3.25,3.15,3.05,2.95,2.85,2.75,2.68],[0.2,0.1,0],[1.58,0.31],[2.14,2.05,1.92,1.8,1.63,1.55,1.47,1.34,1.2,1.14,0.47,0]];
const ets1NormalOut = [[],[1.21,0],[2.25,1.51],[2.81,2.72,2.68,2.6,2.21,1.47,0]];
const ets1F = ['8.65','5.59','15.54','0.06'];
const ets1P = ['3.44e-3','0.02','9.35e-5','0.80'];

const tcf4Tumor  = [[0,0,0.04,2.04,5.0],[0,0.46,0.79,1.07,1.77],[0,0,0,0,0],[0,0.46,0.68,0.88,1.35]];
const tcf4Normal = [[0,0,1.57,3.44,4.79],[0.29,0.78,1.03,1.23,1.70],[0,0,0,0,0],[0.26,0.56,0.70,0.85,1.20]];
const tcf4TumorOut  = [[5.25],[],[0.63,0.11],[]];
const tcf4NormalOut = [[],[0],[1.07,0.58],[0.12,0.06,0]];
const tcf4F = ['7.86','7.69','16.09','0.27'];
const tcf4P = ['5.26e-3','5.79e-3','7.06e-5','0.60'];

// ================= LAYOUT / STYLE =================
const SANS = '"Liberation Sans", Arial, sans-serif';
const OPEN = '"Open Sans", sans-serif';
const scatterData = [ets1_purity, ets1_bcell, ets1_cd8, ets1_cd4n, ets1_cd4mr, tcf4_purity, tcf4_bcell, tcf4_cd8, tcf4_cd4n, tcf4_cd4mr];
const L = [
  {l:200, r:537.5, t:40, b:361, ht:6, x:[0.0115,1.036], xs:0.25, xd:2, y:[1.558,8.316], sh:17, ng:31},
  {l:550, r:887.6, t:40, b:361, ht:6, x:[-0.0215,0.5], xs:0.1, xd:1, y:[1.561,8.276], sh:8, ng:31},
  {l:904, r:1241, t:40, b:361, ht:6, x:[-0.078,1.703], xs:0.5, xd:1, y:[1.52,8.836], sh:8, ng:31},
  {l:1253, r:1578.7, t:40, b:361, ht:6, x:[-0.0195,0.4157], xs:0.1, xd:1, y:[1.16,8.45], sh:3, ng:31},
  {l:1592.4, r:1930, t:40, b:361, ht:6, x:[-0.0176,0.399], xs:0.1, xd:1, y:[1.566,7.99], sh:9, ng:31},
  {l:200, r:537.5, t:472.7, b:793.3, ht:438, x:[0.0115,1.036], xs:0.25, xd:2, y:[0.78,8.013], sh:17, ng:31},
  {l:550, r:887.6, t:472.7, b:793.3, ht:438, x:[-0.022,0.468], xs:0.1, xd:1, y:[0.78,8.013], sh:8, ng:31},
  {l:898.6, r:1236.5, t:472.7, b:793.3, ht:438, x:[-0.0776,1.706], xs:0.5, xd:1, y:[0.81,6.956], sh:8, ng:31},
  {l:1248.9, r:1586.7, t:472.7, b:793.3, ht:441, x:[-0.018,0.416], xs:0.1, xd:1, y:[0.73,8.87], sh:9, ng:31},
  {l:1598.7, r:1933, t:472.7, b:790, ht:441, x:[-0.02,0.396], xs:0.1, xd:1, y:[0.834,7.2], sh:7, ng:29}
];

const grids = [], xAxes = [], yAxes = [], series = [], graphics = [], legends = [];
function isMult(v, s) { const q = v / s; return Math.abs(q - Math.round(q)) < 1e-6; }
function pairs(a) { const out = []; for (let i = 0; i < a.length; i += 2) out.push([a[i], a[i + 1]]); return out; }
function txt(x, y, text, font, fill, align, valign, rot) {
  return {type:'text', x, y, rotation: rot || 0, z: 50,
    style:{text, font, fill, align, textAlign: align, verticalAlign: valign, textVerticalAlign: valign}};
}
function bandRenderer(k) {
  return function (params, api) {
    if (params.dataIndex !== 0) return {type:'group', children:[]};
    const xs = bandX[k], pts = [];
    xs.forEach((x, i) => pts.push(api.coord([x, bandLo[k][i]])));
    for (let i = xs.length - 1; i >= 0; i--) pts.push(api.coord([xs[i], bandHi[k][i]]));
    return {type:'polygon', shape:{points:pts}, style:{fill:'rgba(150,150,150,0.5)', stroke:null}};
  };
}

// -------- Panel A --------
for (let k = 0; k < 10; k++) {
  const g = L[k], row = Math.floor(k / 5), col = k % 5;
  grids.push({left:g.l, top:g.t, width:g.r - g.l, height:g.b - g.t, show:true, borderColor:'#333', borderWidth:1.8, backgroundColor:'#fff'});
  xAxes.push({gridIndex:k, type:'value', min:g.x[0], max:g.x[1], minInterval:g.xs, maxInterval:g.xs,
    axisLine:{show:false}, axisTick:{show:true, length:5, lineStyle:{color:'#333', width:1.5}},
    axisLabel:{margin:8, fontSize:18, color:'#4d4d4d', fontFamily:SANS, formatter: v => isMult(v, g.xs) ? v.toFixed(g.xd) : ''},
    splitLine:{show:true, showMinLine:false, showMaxLine:false, lineStyle:{color:'#e2e2e2', width:2}},
    minorTick:{show:false, splitNumber:2}, minorSplitLine:{show:true, lineStyle:{color:'#ececec', width:1}},
    name:xTitles[col], nameLocation:'middle', nameGap:g.ng,
    nameTextStyle:{fontSize:22, color:'#000', fontFamily:SANS, padding:[0, 2 * g.sh, 0, 0]}});
  yAxes.push({gridIndex:k, type:'value', min:g.y[0], max:g.y[1], minInterval:2, maxInterval:2,
    offset: col === 0 ? 34 : 0,
    axisLine:{show:false}, axisTick:{show: col === 0, length:5, lineStyle:{color:'#333', width:1.5}},
    axisLabel:{show: col === 0, margin:4, fontSize:18, color:'#4d4d4d', fontFamily:SANS, formatter: v => isMult(v, 2) ? String(Math.round(v)) : ''},
    splitLine:{show:true, showMinLine:false, showMaxLine:false, lineStyle:{color:'#e2e2e2', width:2}},
    minorTick:{show:false, splitNumber:2}, minorSplitLine:{show:true, lineStyle:{color:'#ececec', width:1}}});
  series.push({type:'scatter', xAxisIndex:k, yAxisIndex:k, data:pairs(scatterData[k]), symbolSize:9.5,
    itemStyle:{color:'rgba(35,35,35,0.58)'}, z:2, silent:true});
  const bx = bandX[k];
  series.push({type:'custom', xAxisIndex:k, yAxisIndex:k, data:bx.map((x, i) => [x, bandLo[k][i], bandHi[k][i]]),
    encode:{x:0, y:[1, 2]}, renderItem:bandRenderer(k), z:3, silent:true});
  const f = fitLines[k];
  series.push({type:'line', xAxisIndex:k, yAxisIndex:k, data:[[f[0], f[1]], [f[2], f[3]]], symbol:'none',
    lineStyle:{color:'#3558b0', width:3.2}, z:4, silent:true});
  // strip header
  graphics.push({type:'rect', shape:{x:g.l, y:g.ht, width:g.r - g.l, height:g.t - g.ht}, z:40,
    style:{fill:'#d9d9d9', stroke:'#333', lineWidth:1.8}});
  graphics.push(txt((g.l + g.r) / 2, (g.ht + g.t) / 2 + 1, stripTitles[row][col], '18.5px ' + SANS, '#1a1a1a', 'center', 'middle'));
  // Rho / p
  graphics.push(txt(g.r - 3, g.t + 12.5, 'Rho = ' + rhoValues[row][col], '16px ' + SANS, '#e3262b', 'right', 'middle'));
  graphics.push(txt(g.r - 3, g.t + 29.5, 'p = ' + pValues[row][col], '16px ' + SANS, '#e3262b', 'right', 'middle'));
  if (col === 0) {
    graphics.push({type:'rect', shape:{x:166, y:g.t, width:g.l - 166, height:g.b - g.t}, z:40,
      style:{fill:'#d9d9d9', stroke:'#333', lineWidth:1.8}});
    graphics.push(txt(184, (g.t + g.b) / 2, cancerLabel, '17.5px ' + SANS, '#1a1a1a', 'center', 'middle', Math.PI / 2));
    graphics.push(txt(128, (g.t + g.b) / 2 + 1, rowGenes[row], '22px ' + SANS, '#000', 'center', 'middle', Math.PI / 2));
  }
}

// -------- Panels B & C --------
const boxPanels = [
  {tumor:propTumor, normal:propNormal, tOut:propTumorOut, nOut:propNormalOut, F:propF, P:propP, ymax:1, ystep:0.5, title:'Cell Proportion',
   l:210, w:1108, t:932.3, h:252, offT:-47.5, offN:49.5, hw:35, ytx:131, yty:1065, lg:{left:1420.6, top:1088, gap:8, size:16, pad:13, fs:16}},
  {tumor:ets1Tumor, normal:ets1Normal, tOut:ets1TumorOut, nOut:ets1NormalOut, F:ets1F, P:ets1P, ymax:8, ystep:2, title:'log(TPM+1) of ETS1',
   l:215, w:1093, t:1339.3, h:299, offT:-47, offN:49.5, hw:34, ytx:143.5, yty:1517, lg:{left:1434.5, top:1508.5, gap:7.3, size:15, pad:10, fs:15}},
  {tumor:tcf4Tumor, normal:tcf4Normal, tOut:tcf4TumorOut, nOut:tcf4NormalOut, F:tcf4F, P:tcf4P, ymax:8, ystep:2, title:'log(TPM+1) of TCF4',
   l:216.7, w:1124, t:1767.7, h:306.6, offT:-48, offN:50.5, hw:35, ytx:143.5, yty:1945, lg:{left:1444.8, top:1930.8, gap:7.4, size:15, pad:10, fs:15}}
];
const COLORS = [{stroke:'#1f77b4', fill:'rgba(31,119,180,0.55)'}, {stroke:'#ff7f0e', fill:'rgba(255,127,14,0.55)'}];

function boxRenderer(off, hw, col) {
  return function (params, api) {
    const i = api.value(0);
    const v = [api.value(1), api.value(2), api.value(3), api.value(4), api.value(5)];
    const xc = api.coord([i, 0])[0] + off;
    const y = v.map(t => api.coord([i, t])[1]);
    const cw = hw * 0.5;
    const ls = {stroke:col.stroke, lineWidth:3, fill:null};
    return {type:'group', children:[
      {type:'line', shape:{x1:xc, y1:y[3], x2:xc, y2:y[4]}, style:ls},
      {type:'line', shape:{x1:xc, y1:y[0], x2:xc, y2:y[1]}, style:ls},
      {type:'line', shape:{x1:xc - cw, y1:y[4], x2:xc + cw, y2:y[4]}, style:ls},
      {type:'line', shape:{x1:xc - cw, y1:y[0], x2:xc + cw, y2:y[0]}, style:ls},
      {type:'rect', shape:{x:xc - hw, y:y[3], width:2 * hw, height:Math.max(y[1] - y[3], 0)}, style:{fill:col.fill, stroke:col.stroke, lineWidth:3}},
      {type:'line', shape:{x1:xc - hw, y1:y[2], x2:xc + hw, y2:y[2]}, style:ls}
    ]};
  };
}

boxPanels.forEach((bp, j) => {
  const gi = grids.length;
  grids.push({left:bp.l, top:bp.t, width:bp.w, height:bp.h});
  const xb = xAxes.length;
  xAxes.push({gridIndex:gi, type:'category', data:cellTypes, boundaryGap:true,
    axisLine:{show:false}, axisTick:{show:false},
    axisLabel:{interval:0, margin:26, fontSize:20, color:'#444', fontFamily:OPEN}});
  xAxes.push({gridIndex:gi, type:'category', data:cellTypes, position:'top', boundaryGap:true,
    axisLine:{show:false}, axisTick:{show:false},
    axisLabel:{interval:0, margin:0, fontSize:20, color:'#444', fontFamily:OPEN, lineHeight:25, verticalAlign:'middle',
      formatter:(v, i) => 'F=' + bp.F[i] + '\np=' + bp.P[i]}});
  const yi = yAxes.length;
  yAxes.push({gridIndex:gi, type:'value', min:0, max:bp.ymax, interval:bp.ystep,
    axisLine:{show:false}, axisTick:{show:false},
    axisLabel:{margin:6, fontSize:20, color:'#444', fontFamily:OPEN},
    splitLine:{lineStyle:{color:'#e4e4e4', width:1.6}}});
  [[bp.tumor, bp.tOut, bp.offT], [bp.normal, bp.nOut, bp.offN]].forEach(([boxes, outs, off], s) => {
    const col = COLORS[s];
    series.push({type:'custom', name:groupNames[s], xAxisIndex:xb, yAxisIndex:yi,
      data:boxes.map((b, i) => [i].concat(b)), encode:{x:0, y:[1, 2, 3, 4, 5]},
      renderItem:boxRenderer(off, bp.hw, col), itemStyle:{color:col.fill, borderColor:col.stroke}, z:3, silent:true});
    const od = [];
    outs.forEach((arr, i) => arr.forEach(v => od.push([i, v])));
    series.push({type:'scatter', name:groupNames[s], xAxisIndex:xb, yAxisIndex:yi, data:od,
      symbolSize:10, symbolOffset:[off, 0], itemStyle:{color:col.stroke}, z:4, silent:true});
  });
  legends.push({orient:'vertical', left:bp.lg.left, top:bp.lg.top, padding:0, itemGap:bp.lg.gap, itemWidth:bp.lg.size, itemHeight:bp.lg.size,
    icon:'rect', selectedMode:false,
    textStyle:{fontSize:bp.lg.fs, color:'#444', fontFamily:OPEN, padding:[0, 0, 0, bp.lg.pad]},
    data:groupNames.map((n, s) => ({name:n, itemStyle:{color:COLORS[s].fill, borderColor:COLORS[s].stroke, borderWidth:2}}))});
  graphics.push(txt(bp.ytx, bp.yty, bp.title, '23px ' + OPEN, '#444', 'center', 'middle', Math.PI / 2));
});

// panel letters
graphics.push(txt(14, 40, 'A', 'bold 42px ' + SANS, '#000', 'center', 'middle'));
graphics.push(txt(14, 935, 'B', 'bold 42px ' + SANS, '#000', 'center', 'middle'));
graphics.push(txt(13, 1336, 'C', 'bold 42px ' + SANS, '#000', 'center', 'middle'));

const chart = echarts.init(document.getElementById('c'));
chart.setOption({
  animation:false, backgroundColor:'#fff',
  grid:grids, xAxis:xAxes, yAxis:yAxes, series:series, legend:legends,
  graphic:{elements:graphics}
});
</script></body></html>
